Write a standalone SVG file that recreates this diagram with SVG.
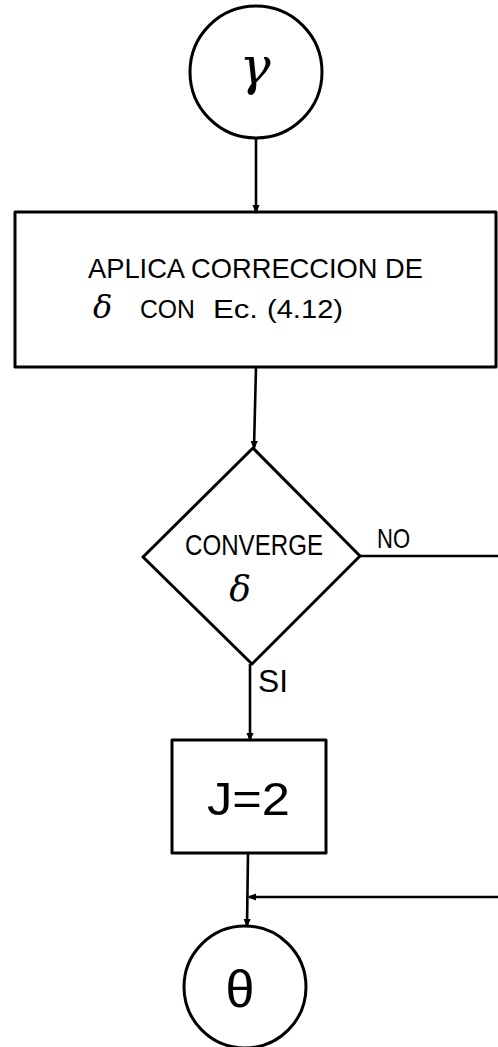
<svg xmlns="http://www.w3.org/2000/svg" width="498" height="1047" viewBox="0 0 498 1047">
  <style>
    .shape { fill: none; stroke: #000; stroke-width: 3; stroke-linejoin: round; }
    .wire { fill: none; stroke: #000; stroke-width: 2.6; }
    .lbl { font-family: "Liberation Sans", "DejaVu Sans", sans-serif; fill: #000; }
    .sym { font-family: "DejaVu Serif", "Liberation Serif", serif; font-style: italic; fill: #000; }
    .upright { font-family: "Liberation Sans", "DejaVu Sans", sans-serif; font-style: normal; fill: #000; }
  </style>
  <defs>
    <marker id="tip" viewBox="0 0 10 10" refX="8" refY="5" markerWidth="3.5" markerHeight="3.5" orient="auto">
      <path d="M0,1 L10,5 L0,9 z" fill="#000"/>
    </marker>
  </defs>
  <rect width="498" height="1047" fill="#fff"/>

  <!-- connectors -->
  <g id="connectors">
    <line class="wire" x1="256" y1="138" x2="256" y2="212" marker-end="url(#tip)"/>
    <line class="wire" x1="256" y1="367" x2="254" y2="448" marker-end="url(#tip)"/>
    <line class="wire" x1="360" y1="556" x2="498" y2="556"/>
    <line class="wire" x1="250" y1="664" x2="250" y2="740" marker-end="url(#tip)"/>
    <line class="wire" x1="248" y1="853" x2="247" y2="926" marker-end="url(#tip)"/>
    <line class="wire" x1="498" y1="897" x2="249" y2="897" marker-end="url(#tip)"/>
    <text class="lbl" x="377" y="548" font-size="28" textLength="33" lengthAdjust="spacingAndGlyphs">NO</text>
    <text class="lbl" x="258" y="692" font-size="32" textLength="30" lengthAdjust="spacingAndGlyphs">SI</text>
  </g>

  <!-- start connector -->
  <g id="node-gamma">
    <circle class="shape" cx="256" cy="72" r="66"/>
    <text class="sym" x="255" y="84" font-size="52" text-anchor="middle">γ</text>
  </g>

  <!-- correction step -->
  <g id="node-correccion">
    <rect class="shape" x="15" y="212" width="481" height="155"/>
    <text class="lbl" x="88" y="278" font-size="28" textLength="335" lengthAdjust="spacingAndGlyphs">APLICA CORRECCION DE</text>
    <text class="sym" x="93" y="318" font-size="32">δ</text>
    <text class="lbl" x="140" y="318" font-size="25" textLength="55" lengthAdjust="spacingAndGlyphs">CON</text>
    <text class="lbl" x="213" y="318" font-size="25" textLength="45" lengthAdjust="spacingAndGlyphs">Ec.</text>
    <text class="lbl" x="267" y="318" font-size="25" textLength="76" lengthAdjust="spacingAndGlyphs">(4.12)</text>
  </g>

  <!-- convergence test -->
  <g id="node-converge">
    <polygon class="shape" points="253,448 360,556 252,664 143,557"/>
    <text class="lbl" x="185" y="555" font-size="30" textLength="138" lengthAdjust="spacingAndGlyphs">CONVERGE</text>
    <text class="sym" x="240" y="601" font-size="36" text-anchor="middle">δ</text>
  </g>

  <!-- index assignment -->
  <g id="node-j">
    <rect class="shape" x="172" y="740" width="154" height="113"/>
    <text class="lbl" x="207" y="815" font-size="46" textLength="83" lengthAdjust="spacingAndGlyphs">J=2</text>
  </g>

  <!-- exit connector -->
  <g id="node-theta">
    <circle class="shape" cx="245" cy="987" r="61"/>
    <text class="upright" x="240" y="1007" font-size="52" text-anchor="middle">θ</text>
  </g>
</svg>
